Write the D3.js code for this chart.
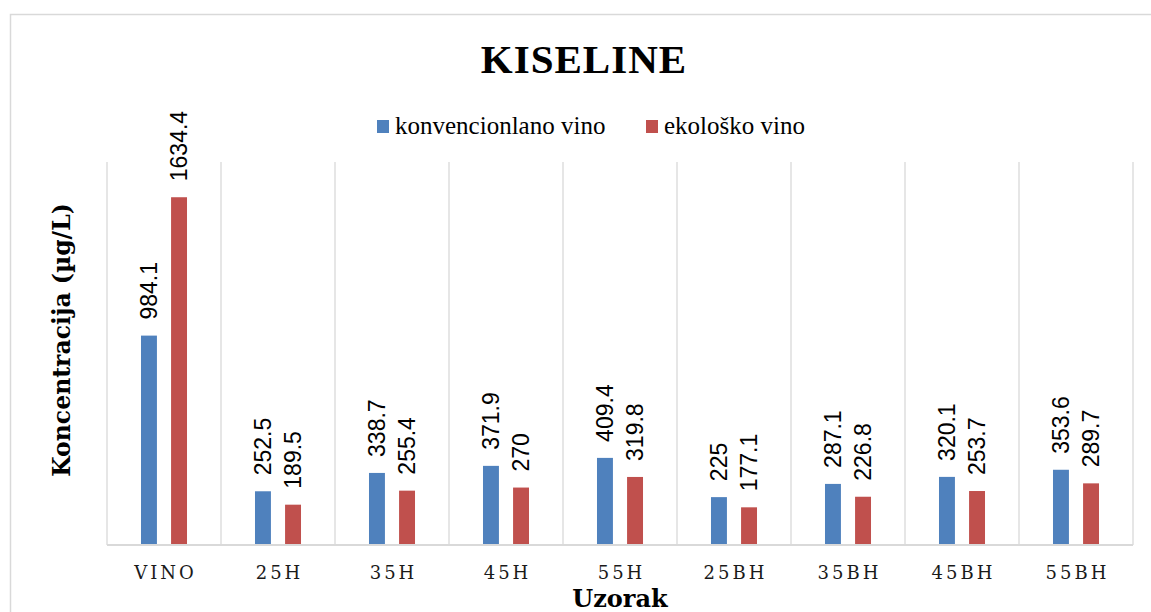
<!DOCTYPE html>
<html lang="hr">
<head>
    <meta charset="UTF-8">
    <title>KISELINE</title>
    <script type="text/javascript" src="https://cdn.jsdelivr.net/npm/d3@7"></script>
    <style>
        body { margin: 0; background: #fff; }
    </style>
</head>
<body>

<script>
    // kategorije i vrijednosti
    const categories = ["VINO", "25H", "35H", "45H", "55H", "25BH", "35BH", "45BH", "55BH"];
    const seriesNames = ["konvencionlano vino", "ekološko vino"];
    const konvencionalno = [984.1, 252.5, 338.7, 371.9, 409.4, 225, 287.1, 320.1, 353.6];
    const ekolosko = [1634.4, 189.5, 255.4, 270, 319.8, 177.1, 226.8, 253.7, 289.7];
    const colors = ["#4f81bd", "#c0504d"];

    var w = 1151,
        h = 612;
    var plot = {left: 107, right: 1133, top: 162, bottom: 545};

    var serif = "'DejaVu Serif', serif";
    var labelFont = "'Liberation Sans Narrow', 'Liberation Sans', sans-serif";

    var svg = d3.select("body")
        .append("svg")
        .attr("width", w)
        .attr("height", h);

    // okvir grafikona
    svg.append("rect")
        .attr("x", 10.5)
        .attr("y", 14.5)
        .attr("width", w)
        .attr("height", h)
        .attr("fill", "none")
        .attr("stroke", "#d9d9d9")
        .attr("stroke-width", 1.5);

    // skale
    var x0 = d3.scaleBand()
        .domain(categories)
        .range([plot.left, plot.right])
        .padding(0);

    var x1 = d3.scaleBand()
        .domain([0, 1])
        .range([0, x0.bandwidth()])
        .paddingInner(0.47)
        .paddingOuter(1.13);

    var yScale = d3.scaleLinear()
        .domain([0, 1800])
        .range([plot.bottom, plot.top]);

    // vertikalne linije mreže
    var bounds = categories.map(function (c) { return x0(c); }).concat([plot.right]);
    svg.selectAll("line.grid")
        .data(bounds)
        .enter()
        .append("line")
        .attr("class", "grid")
        .attr("x1", function (d) { return d; })
        .attr("x2", function (d) { return d; })
        .attr("y1", plot.top)
        .attr("y2", plot.bottom)
        .attr("stroke", "#d9d9d9")
        .attr("stroke-width", 1.3);

    // podaci po grupama
    var rows = categories.map(function (c, i) {
        return {cat: c, values: [konvencionalno[i], ekolosko[i]]};
    });

    var groups = svg.selectAll("g.cat")
        .data(rows)
        .enter()
        .append("g")
        .attr("class", "cat")
        .attr("transform", function (d) { return "translate(" + x0(d.cat) + ",0)"; });

    groups.selectAll("rect")
        .data(function (d) { return d.values; })
        .enter()
        .append("rect")
        .attr("x", function (d, i) { return x1(i); })
        .attr("y", function (d) { return yScale(d); })
        .attr("width", x1.bandwidth())
        .attr("height", function (d) { return plot.bottom - yScale(d); })
        .attr("fill", function (d, i) { return colors[i]; });

    // oznake vrijednosti (rotirane)
    groups.selectAll("text")
        .data(function (d) { return d.values; })
        .enter()
        .append("text")
        .text(function (d) { return d; })
        .attr("transform", function (d, i) {
            var cx = x1(i) + x1.bandwidth() / 2;
            return "translate(" + cx + "," + (yScale(d) - 16) + ") rotate(-90)";
        })
        .attr("dy", "0.35em")
        .attr("font-family", labelFont)
        .attr("font-size", "23px")
        .attr("fill", "#000");

    // bazna linija
    svg.append("line")
        .attr("x1", plot.left)
        .attr("x2", plot.right)
        .attr("y1", plot.bottom)
        .attr("y2", plot.bottom)
        .attr("stroke", "#d9d9d9")
        .attr("stroke-width", 2);

    // os x
    var xAxis = d3.axisBottom(x0).tickSize(0).tickPadding(0);
    var gx = svg.append("g")
        .attr("transform", "translate(0," + plot.bottom + ")")
        .call(xAxis);
    gx.select(".domain").remove();
    gx.selectAll("text")
        .attr("y", 34)
        .attr("dy", 0)
        .attr("dx", "1.5px")
        .attr("font-family", serif)
        .attr("font-size", "18px")
        .attr("letter-spacing", "3px")
        .attr("fill", "#1a1a1a");

    // naslov
    svg.append("text")
        .text("KISELINE")
        .attr("x", 584)
        .attr("y", 73)
        .attr("text-anchor", "middle")
        .attr("font-family", "'Liberation Serif', serif")
        .attr("font-weight", "bold")
        .attr("font-size", "41px")
        .attr("letter-spacing", "1px")
        .attr("fill", "#000");

    // legenda
    var legendX = [377, 646];
    var legend = svg.selectAll("g.legend")
        .data(seriesNames)
        .enter()
        .append("g")
        .attr("class", "legend")
        .attr("transform", function (d, i) { return "translate(" + legendX[i] + ",120)"; });
    legend.append("rect")
        .attr("width", 12)
        .attr("height", 13)
        .attr("fill", function (d, i) { return colors[i]; });
    legend.append("text")
        .text(function (d) { return d; })
        .attr("x", 18)
        .attr("y", 14)
        .attr("font-family", "'Liberation Serif', serif")
        .attr("font-size", "25px")
        .attr("fill", "#000");

    // naslovi osi
    svg.append("text")
        .text("Koncentracija (µg/L)")
        .attr("transform", "translate(70,340) rotate(-90)")
        .attr("text-anchor", "middle")
        .attr("font-family", serif)
        .attr("font-weight", "bold")
        .attr("font-size", "23.5px")
        .attr("fill", "#000");

    svg.append("text")
        .text("Uzorak")
        .attr("x", 620)
        .attr("y", 607)
        .attr("text-anchor", "middle")
        .attr("font-family", serif)
        .attr("font-weight", "bold")
        .attr("font-size", "24px")
        .attr("fill", "#000");
</script>

</body>
</html>
